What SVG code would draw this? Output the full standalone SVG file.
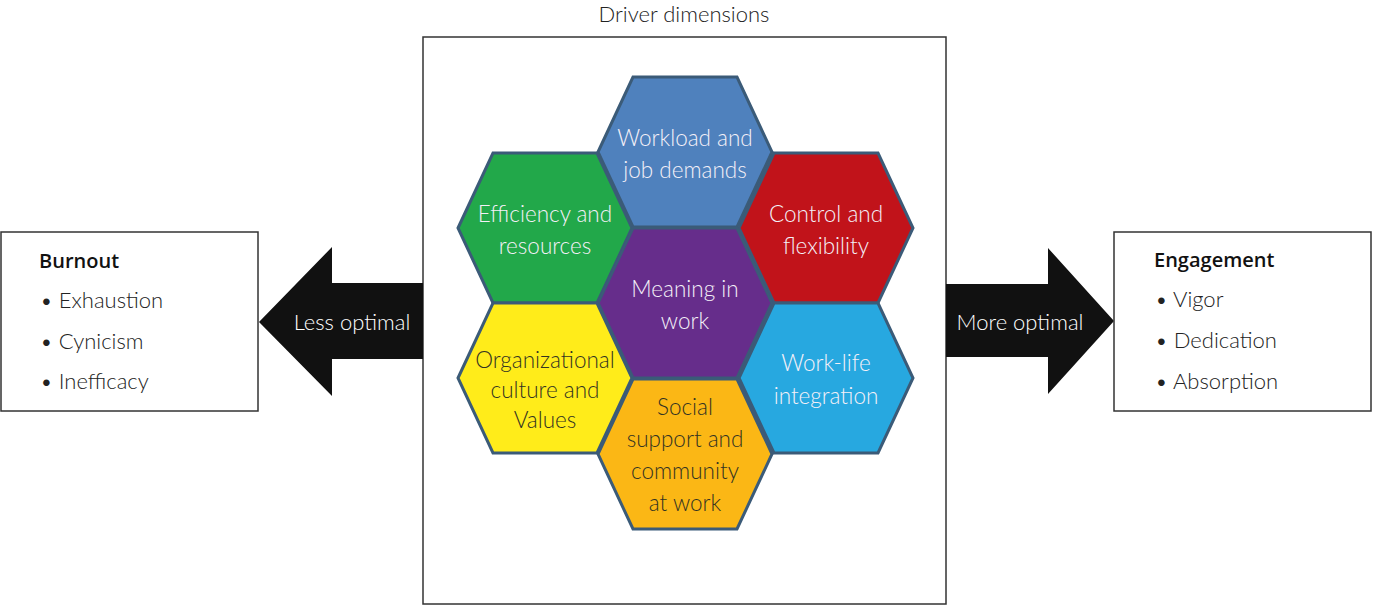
<svg xmlns="http://www.w3.org/2000/svg" width="1373" height="606" viewBox="0 0 1373 606">
<style>
.box{fill:#fff;stroke:#333;stroke-width:1.5}
.hex{stroke:#3b5b78;stroke-width:3}
.t{font-family:Lato,"Open Sans","Liberation Sans",sans-serif;font-weight:300;font-size:22.5px;text-anchor:middle}
.lt{fill:#f4f0f8}
.dk{fill:#333322}
.lbl{font-family:Lato,"Open Sans","Liberation Sans",sans-serif;font-weight:300;font-size:22px;fill:#222}
.hd{font-family:"Open Sans","Liberation Sans",sans-serif;font-weight:600;font-size:20px;fill:#111}
.arr{fill:#111}
</style>
<defs>
<polygon id="hx" points="-87,0 -52,-75 52,-75 87,0 52,75 -52,75"/>
</defs>
<text class="lbl" x="684" y="22" text-anchor="middle">Driver dimensions</text>
<g id="driver-box"><rect class="box" x="423" y="37" width="523" height="567"/></g>
<g id="connectors">
<polygon class="arr" points="423,283 332,283 332,247 259,322 332,396 332,359 423,359"/>
<text class="lbl" x="352" y="330" text-anchor="middle" style="fill:#fff">Less optimal</text>
<polygon class="arr" points="946,284 1048,284 1048,248 1114,321 1048,394 1048,357 946,357"/>
<text class="lbl" x="1020" y="330" text-anchor="middle" style="fill:#fff">More optimal</text>
</g>
<g id="burnout">
<rect class="box" x="1" y="232" width="257" height="179"/>
<text class="hd" x="39" y="268">Burnout</text>
<text class="lbl" x="40" y="308">• Exhaustion</text>
<text class="lbl" x="40" y="349">• Cynicism</text>
<text class="lbl" x="40" y="389">• Inefficacy</text>
</g>
<g id="engagement">
<rect class="box" x="1114" y="232" width="257" height="179"/>
<text class="hd" x="1154" y="267">Engagement</text>
<text class="lbl" x="1155" y="307">• Vigor</text>
<text class="lbl" x="1155" y="348">• Dedication</text>
<text class="lbl" x="1155" y="389">• Absorption</text>
</g>
<g id="workload">
<use href="#hx" class="hex" x="685" y="152" fill="#4f81bd"/>
<text class="t lt" x="685" y="146">Workload and</text>
<text class="t lt" x="685" y="178">job demands</text>
</g>
<g id="efficiency">
<use href="#hx" class="hex" x="545" y="228" fill="#22a84a"/>
<text class="t lt" x="545" y="222">Efficiency and</text>
<text class="t lt" x="545" y="254">resources</text>
</g>
<g id="control">
<use href="#hx" class="hex" x="826" y="228" fill="#c1131a"/>
<text class="t lt" x="826" y="222">Control and</text>
<text class="t lt" x="826" y="254">flexibility</text>
</g>
<g id="meaning">
<use href="#hx" class="hex" x="685" y="303" fill="#662d8b"/>
<text class="t lt" x="685" y="297">Meaning in</text>
<text class="t lt" x="685" y="329">work</text>
</g>
<g id="organizational">
<use href="#hx" class="hex" x="545" y="378" fill="#ffec1a"/>
<text class="t dk" x="545" y="368">Organizational</text>
<text class="t dk" x="545" y="398">culture and</text>
<text class="t dk" x="545" y="428">Values</text>
</g>
<g id="worklife">
<use href="#hx" class="hex" x="826" y="378" fill="#27a8e0"/>
<text class="t lt" x="826" y="371">Work-life</text>
<text class="t lt" x="826" y="404">integration</text>
</g>
<g id="social">
<use href="#hx" class="hex" x="685" y="454" fill="#fbb715"/>
<text class="t dk" x="685" y="415">Social</text>
<text class="t dk" x="685" y="447">support and</text>
<text class="t dk" x="685" y="479">community</text>
<text class="t dk" x="685" y="511">at work</text>
</g>
</svg>
